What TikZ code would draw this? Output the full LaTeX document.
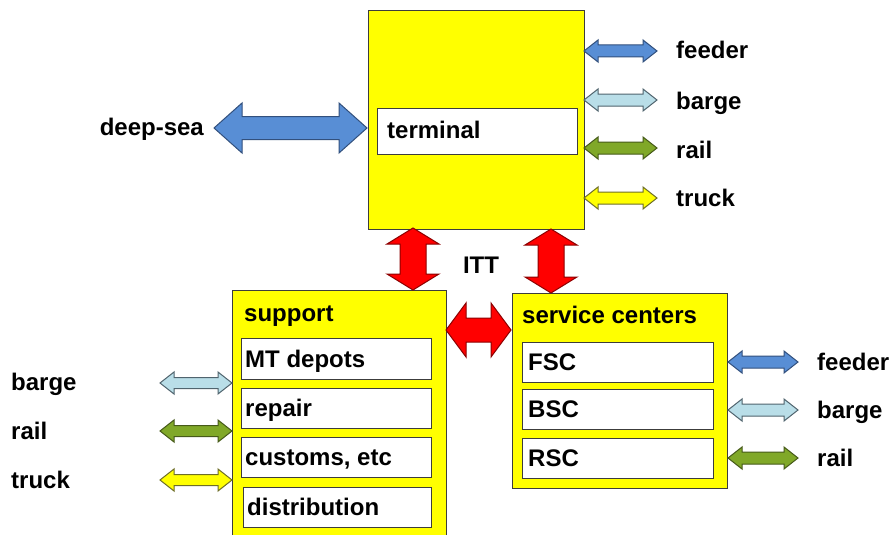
\documentclass[tikz,border=0pt]{standalone}
\usepackage{fontspec}
\setmainfont{Liberation Sans}
\usetikzlibrary{calc}
\definecolor{boxline}{RGB}{60,60,60}
\definecolor{boxyellow}{RGB}{255,255,0}
\definecolor{blueF}{RGB}{88,142,213}
\definecolor{blueD}{RGB}{50,80,125}
\definecolor{lblueF}{RGB}{185,222,232}
\definecolor{lblueD}{RGB}{80,100,110}
\definecolor{greenF}{RGB}{128,168,40}
\definecolor{greenD}{RGB}{70,90,25}
\definecolor{yelF}{RGB}{255,255,0}
\definecolor{yelD}{RGB}{110,110,40}
\definecolor{redF}{RGB}{255,0,0}
\definecolor{redD}{RGB}{140,0,0}
% #1 style, #2 start, #3 end, #4 shaft half, #5 head half, #6 head length
\newcommand\dblarr[6]{%
\draw[#1] (#2)
 -- ($(#2)!#6!(#3)!#5!90:(#3)$)
 -- ($(#2)!#6!(#3)!#4!90:(#3)$)
 -- ($(#3)!#6!(#2)!#4!-90:(#2)$)
 -- ($(#3)!#6!(#2)!#5!-90:(#2)$)
 -- (#3)
 -- ($(#3)!#6!(#2)!#5!90:(#2)$)
 -- ($(#3)!#6!(#2)!#4!90:(#2)$)
 -- ($(#2)!#6!(#3)!#4!-90:(#3)$)
 -- ($(#2)!#6!(#3)!#5!-90:(#3)$)
 -- cycle;}
\begin{document}
\begin{tikzpicture}[x=1pt,y=-1pt,
  txt/.style={font=\fontsize{24}{28}\selectfont\bfseries, inner sep=0pt, text=black},
  lbl/.style={txt, anchor=mid west},
  bigbox/.style={draw=boxline, line width=1.1pt, fill=boxyellow, anchor=north west, inner sep=0pt},
  inbox/.style={draw=boxline, line width=1.1pt, fill=white, anchor=north west, inner sep=0pt},
  arblue/.style={fill=blueF, draw=blueD, line width=1pt},
  arlblue/.style={fill=lblueF, draw=lblueD, line width=1pt},
  argreen/.style={fill=greenF, draw=greenD, line width=1pt},
  aryel/.style={fill=yelF, draw=yelD, line width=1pt},
  arred/.style={fill=redF, draw=redD, line width=1pt}]
\clip (0,0) rectangle (894,535);
\fill[white] (0,0) rectangle (894,535);

% terminal
\node[bigbox, minimum width=216pt, minimum height=219pt] (term) at (368,10) {};
\node[inbox, minimum width=200pt, minimum height=46pt] (termin) at (377,108) {};
\node[lbl] (termt) at (387,136) {terminal};

% support
\node[bigbox, minimum width=214pt, minimum height=260pt] (sup) at (232,290) {};
\node[lbl] (supt) at (244,319) {support};
\node[inbox, minimum width=190pt, minimum height=41pt] (mt) at (241,338) {};
\node[inbox, minimum width=190pt, minimum height=40pt] (rep) at (241,388) {};
\node[inbox, minimum width=190pt, minimum height=40pt] (cus) at (241,437) {};
\node[inbox, minimum width=188pt, minimum height=40pt] (dis) at (243,487) {};
\node[lbl] at (245,365) {MT depots};
\node[lbl] at (245,414) {repair};
\node[lbl] at (245,463) {customs, etc};
\node[lbl] at (247,513) {distribution};

% service centers
\node[bigbox, minimum width=215pt, minimum height=195pt] (sc) at (512,293) {};
\node[lbl] (sct) at (522,321) {service centers};
\node[inbox, minimum width=191pt, minimum height=40pt] (fsc) at (522,342) {};
\node[inbox, minimum width=191pt, minimum height=40pt] (bsc) at (522,389) {};
\node[inbox, minimum width=191pt, minimum height=40pt] (rsc) at (522,438) {};
\node[lbl] at (528,368) {FSC};
\node[lbl] at (528,415) {BSC};
\node[lbl] at (528,464) {RSC};

% labels
\node[txt, anchor=mid east] (deep) at (204,133) {deep-sea};
\node[lbl] (tfeed) at (676,56) {feeder};
\node[lbl] (tbarge) at (676,107) {barge};
\node[lbl] (trail) at (676,156) {rail};
\node[lbl] (ttruck) at (676,204) {truck};
\node[lbl] (sfeed) at (817,368) {feeder};
\node[lbl] (sbarge) at (817,416) {barge};
\node[lbl] (srail) at (817,464) {rail};
\node[lbl] (lbarge) at (11,388) {barge};
\node[lbl] (lrail) at (11,437) {rail};
\node[lbl] (ltruck) at (11,486) {truck};
\node[txt, anchor=mid] (itt) at (481,271) {ITT};

% arrow end points
\coordinate (dsA) at (214,128);  \coordinate (dsB) at (367,128);
\coordinate (tfA) at (584,51);   \coordinate (tfB) at (657,51);
\coordinate (tbA) at (584,100);  \coordinate (tbB) at (657,100);
\coordinate (trA) at (584,148);  \coordinate (trB) at (657,148);
\coordinate (ttA) at (584,198);  \coordinate (ttB) at (657,198);
\coordinate (sfA) at (728,362);  \coordinate (sfB) at (798,362);
\coordinate (sbA) at (728,410);  \coordinate (sbB) at (798,410);
\coordinate (srA) at (728,458);  \coordinate (srB) at (798,458);
\coordinate (lbA) at (160,383);  \coordinate (lbB) at (232,383);
\coordinate (lrA) at (160,431);  \coordinate (lrB) at (232,431);
\coordinate (ltA) at (160,480);  \coordinate (ltB) at (232,480);
\coordinate (r1A) at (413,228);  \coordinate (r1B) at (413,290);
\coordinate (r2A) at (551,229);  \coordinate (r2B) at (551,293);
\coordinate (r3A) at (446,330);  \coordinate (r3B) at (511,330);

\dblarr{arblue}{dsA}{dsB}{11.5pt}{25pt}{28pt}
\dblarr{arblue}{tfA}{tfB}{6pt}{11pt}{14pt}
\dblarr{arlblue}{tbA}{tbB}{6pt}{11pt}{14pt}
\dblarr{argreen}{trA}{trB}{6pt}{11pt}{14pt}
\dblarr{aryel}{ttA}{ttB}{6pt}{11pt}{14pt}
\dblarr{arblue}{sfA}{sfB}{6pt}{11pt}{14pt}
\dblarr{arlblue}{sbA}{sbB}{6pt}{11pt}{14pt}
\dblarr{argreen}{srA}{srB}{6pt}{11pt}{14pt}
\dblarr{arlblue}{lbA}{lbB}{5.5pt}{11pt}{14pt}
\dblarr{argreen}{lrA}{lrB}{5.5pt}{11pt}{14pt}
\dblarr{aryel}{ltA}{ltB}{5.5pt}{11pt}{14pt}
\dblarr{arred}{r1A}{r1B}{13pt}{26pt}{16pt}
\dblarr{arred}{r2A}{r2B}{13pt}{26pt}{16pt}
\dblarr{arred}{r3A}{r3B}{12pt}{27pt}{20pt}
\end{tikzpicture}
\end{document}
